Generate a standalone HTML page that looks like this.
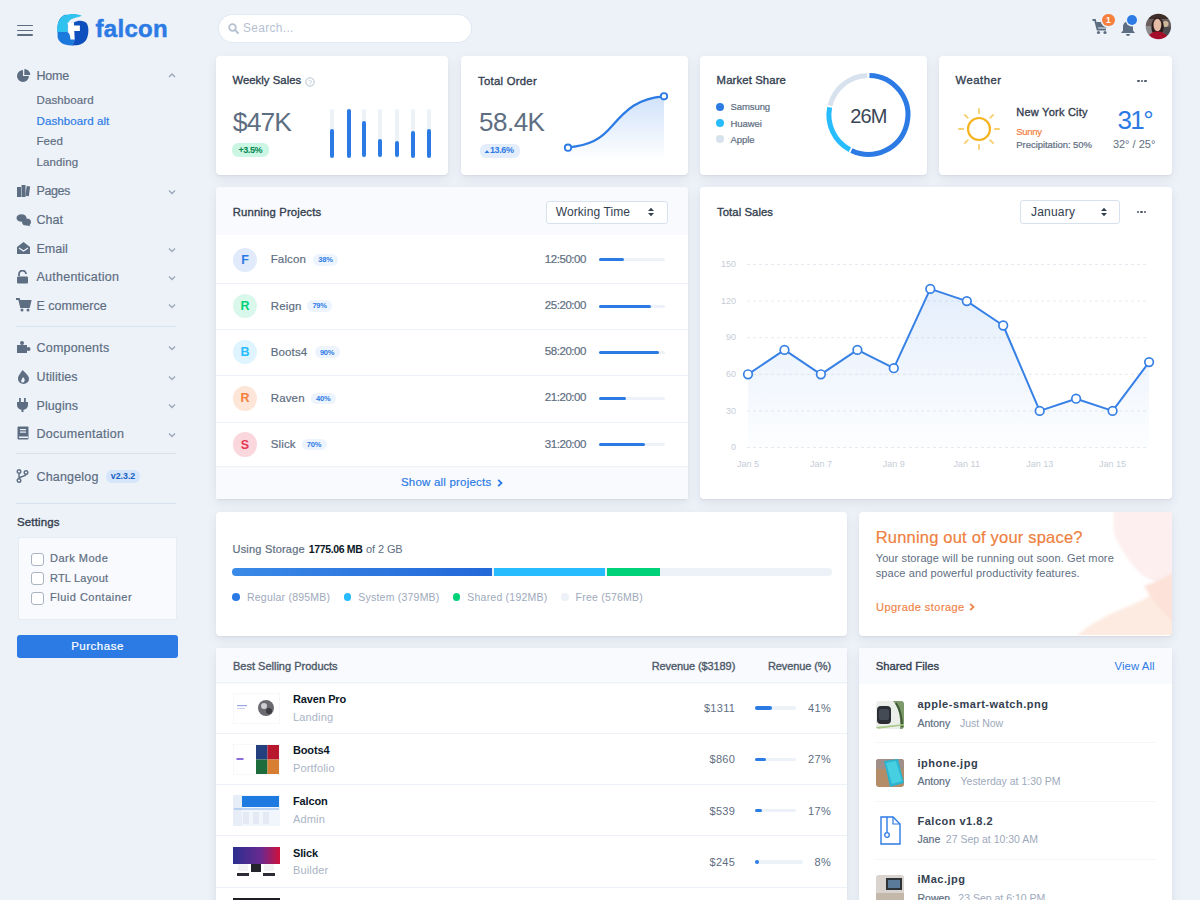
<!DOCTYPE html>
<html><head><meta charset="utf-8"><title>Falcon Dashboard</title>
<style>
html,body{margin:0;padding:0;}
body{width:1200px;height:900px;overflow:hidden;position:relative;background:#edf2f9;font-family:"Liberation Sans", sans-serif;-webkit-font-smoothing:antialiased;}
.t{position:absolute;line-height:1;white-space:nowrap;}
.b{position:absolute;}
.card{position:absolute;background:#fff;border-radius:4px;box-shadow:0 1px 2px 0 rgba(0,0,0,.06),0 4px 11px 0 rgba(65,69,88,.09);overflow:hidden;}
</style></head><body>
<div class="b" style="left:17px;top:24.5px;width:16px;height:1.6px;background:#5e6e82;border-radius:1px;"></div>
<div class="b" style="left:17px;top:29.5px;width:16px;height:1.6px;background:#5e6e82;border-radius:1px;"></div>
<div class="b" style="left:17px;top:34px;width:16px;height:1.6px;background:#5e6e82;border-radius:1px;"></div>
<svg class="b" style="left:52px;top:10px" width="40" height="40" viewBox="0 0 40 40"><path d="M5.5 20 C5 12 8 6 14 4.5 L17 11 C15.5 13.5 15.5 17 15.5 22 L22.4 29.5 C22.4 31.5 21.5 33.5 19.5 35.4 C12 35.5 6.5 32.5 5.6 27Z" fill="#1b78dc"/>
<path d="M5.2 22 C5 14 7 8 12 5.5 C17 3.5 25 3.3 29.8 5.8 C25 7.8 19.5 8 16.8 11.5 C15.5 13.5 15.5 17 15.5 22Z" fill="#30c2ee"/>
<path d="M21.7 12.8 C26 10 32 10.2 34.8 13.5 C37.3 17.5 36.8 26 33.8 30.5 C30.5 34.8 25 35.6 19.5 35.4 C21.5 33.5 22.4 31.5 22.4 29.5Z" fill="#0d4fbd"/>
<path d="M15.4 12.5 L22 13 L22.5 29.6 L18.6 29.6Z" fill="#fff"/>
<path d="M21.6 15.6 L27.9 15.6 L27.9 21.1 L22.1 21.1Z" fill="#fff"/></svg>
<div class="t" style="left:95.5px;top:16.7px;font-size:24px;color:#2c7be5;font-weight:700;letter-spacing:0.3px;-webkit-text-stroke:0.5px #2c7be5;">falcon</div>
<div class="t" style="left:36.5px;top:70.1px;font-size:12.5px;color:#5e6e82;letter-spacing:-0.2px;-webkit-text-stroke:0.2px #5e6e82;">Home</div>
<svg class="b" style="left:168px;top:71.8px" width="8" height="6" viewBox="0 0 8 6"><path d="M1 5 L4 2 L7 5" fill="none" stroke="#9aa6b8" stroke-width="1.3"/></svg>
<div class="t" style="left:36.5px;top:185.3px;font-size:12.5px;color:#5e6e82;letter-spacing:-0.4px;-webkit-text-stroke:0.2px #5e6e82;">Pages</div>
<svg class="b" style="left:168px;top:189.0px" width="8" height="6" viewBox="0 0 8 6"><path d="M1 1.5 L4 4.5 L7 1.5" fill="none" stroke="#9aa6b8" stroke-width="1.3"/></svg>
<div class="t" style="left:36.5px;top:214.0px;font-size:12.5px;color:#5e6e82;-webkit-text-stroke:0.2px #5e6e82;">Chat</div>
<div class="t" style="left:36.5px;top:242.8px;font-size:12.5px;color:#5e6e82;-webkit-text-stroke:0.2px #5e6e82;">Email</div>
<svg class="b" style="left:168px;top:246.5px" width="8" height="6" viewBox="0 0 8 6"><path d="M1 1.5 L4 4.5 L7 1.5" fill="none" stroke="#9aa6b8" stroke-width="1.3"/></svg>
<div class="t" style="left:36.5px;top:271.1px;font-size:12.5px;color:#5e6e82;letter-spacing:0.25px;-webkit-text-stroke:0.2px #5e6e82;">Authentication</div>
<svg class="b" style="left:168px;top:274.8px" width="8" height="6" viewBox="0 0 8 6"><path d="M1 1.5 L4 4.5 L7 1.5" fill="none" stroke="#9aa6b8" stroke-width="1.3"/></svg>
<div class="t" style="left:36.5px;top:299.5px;font-size:12.5px;color:#5e6e82;-webkit-text-stroke:0.2px #5e6e82;">E commerce</div>
<svg class="b" style="left:168px;top:303.2px" width="8" height="6" viewBox="0 0 8 6"><path d="M1 1.5 L4 4.5 L7 1.5" fill="none" stroke="#9aa6b8" stroke-width="1.3"/></svg>
<div class="t" style="left:36.5px;top:341.6px;font-size:12.5px;color:#5e6e82;letter-spacing:0.2px;-webkit-text-stroke:0.2px #5e6e82;">Components</div>
<svg class="b" style="left:168px;top:345.3px" width="8" height="6" viewBox="0 0 8 6"><path d="M1 1.5 L4 4.5 L7 1.5" fill="none" stroke="#9aa6b8" stroke-width="1.3"/></svg>
<div class="t" style="left:36.5px;top:371.1px;font-size:12.5px;color:#5e6e82;letter-spacing:0.1px;-webkit-text-stroke:0.2px #5e6e82;">Utilities</div>
<svg class="b" style="left:168px;top:374.8px" width="8" height="6" viewBox="0 0 8 6"><path d="M1 1.5 L4 4.5 L7 1.5" fill="none" stroke="#9aa6b8" stroke-width="1.3"/></svg>
<div class="t" style="left:36.5px;top:399.5px;font-size:12.5px;color:#5e6e82;letter-spacing:0.1px;-webkit-text-stroke:0.2px #5e6e82;">Plugins</div>
<svg class="b" style="left:168px;top:403.2px" width="8" height="6" viewBox="0 0 8 6"><path d="M1 1.5 L4 4.5 L7 1.5" fill="none" stroke="#9aa6b8" stroke-width="1.3"/></svg>
<div class="t" style="left:36.5px;top:427.8px;font-size:12.5px;color:#5e6e82;letter-spacing:0.28px;-webkit-text-stroke:0.2px #5e6e82;">Documentation</div>
<svg class="b" style="left:168px;top:431.5px" width="8" height="6" viewBox="0 0 8 6"><path d="M1 1.5 L4 4.5 L7 1.5" fill="none" stroke="#9aa6b8" stroke-width="1.3"/></svg>
<div class="t" style="left:36.5px;top:471.3px;font-size:12.5px;color:#5e6e82;letter-spacing:0.18px;-webkit-text-stroke:0.2px #5e6e82;">Changelog</div>
<div class="t" style="left:36.5px;top:94.5px;font-size:11.5px;color:#5e6e82;letter-spacing:0.1px;-webkit-text-stroke:0.2px #5e6e82;">Dashboard</div>
<div class="t" style="left:36.5px;top:115.6px;font-size:11.5px;color:#2c7be5;letter-spacing:0.1px;-webkit-text-stroke:0.2px #2c7be5;">Dashboard alt</div>
<div class="t" style="left:36.5px;top:135.9px;font-size:11.5px;color:#5e6e82;letter-spacing:0.1px;-webkit-text-stroke:0.2px #5e6e82;">Feed</div>
<div class="t" style="left:36.5px;top:156.8px;font-size:11.5px;color:#5e6e82;letter-spacing:0.1px;-webkit-text-stroke:0.2px #5e6e82;">Landing</div>
<svg class="b" style="left:16px;top:68.5px" width="16" height="14" viewBox="0 0 16 14"><path d="M7 1 A6 6 0 1 0 13 7 L7 7Z" fill="#5e6e82"/><path d="M8.3 0 A6 6 0 0 1 14.3 6 L8.3 6Z" fill="#5e6e82"/></svg>
<svg class="b" style="left:16px;top:183.8px" width="16" height="14" viewBox="0 0 16 14"><rect x="1" y="3" width="4" height="10" fill="#5e6e82"/><rect x="5.5" y="1" width="4" height="12" fill="#5e6e82"/><rect x="10" y="2" width="3.5" height="10" fill="#5e6e82" transform="rotate(8 11 7)"/></svg>
<svg class="b" style="left:16px;top:212.5px" width="16" height="14" viewBox="0 0 16 14"><ellipse cx="5.5" cy="5" rx="5" ry="3.8" fill="#5e6e82"/><ellipse cx="10.5" cy="9" rx="4.5" ry="3.5" fill="#5e6e82"/><path d="M12 11 L15 13.5 L10 12Z" fill="#5e6e82"/></svg>
<svg class="b" style="left:16px;top:241.3px" width="16" height="14" viewBox="0 0 16 14"><path d="M1 6 L7.5 1 L14 6 L14 13 L1 13Z" fill="#5e6e82"/><path d="M3 7 L7.5 10 L12 7" fill="none" stroke="#edf2f9" stroke-width="1.2"/></svg>
<svg class="b" style="left:16px;top:269.6px" width="16" height="14" viewBox="0 0 16 14"><path d="M3 6 L3 4 A3.5 3.5 0 0 1 10 4" fill="none" stroke="#5e6e82" stroke-width="1.8"/><rect x="1" y="6.5" width="11" height="7" rx="1" fill="#5e6e82"/></svg>
<svg class="b" style="left:16px;top:298px" width="16" height="14" viewBox="0 0 16 14"><path d="M0 1 L3 1 L5 9 L13 9 L14.5 3 L4 3" fill="none" stroke="#5e6e82" stroke-width="1.8"/><rect x="4" y="4" width="10" height="4" fill="#5e6e82"/><circle cx="6" cy="12" r="1.5" fill="#5e6e82"/><circle cx="12" cy="12" r="1.5" fill="#5e6e82"/></svg>
<svg class="b" style="left:16px;top:340.3px" width="16" height="14" viewBox="0 0 16 14"><rect x="1" y="5" width="10" height="8" fill="#5e6e82"/><circle cx="6" cy="3" r="2" fill="#5e6e82"/><circle cx="12.5" cy="9" r="2" fill="#5e6e82"/></svg>
<svg class="b" style="left:16px;top:369.6px" width="16" height="14" viewBox="0 0 16 14"><path d="M6.5 0 C9 3 13 5 13 9 A5.5 5 0 0 1 2 9 C2 5 5 3 6.5 0Z" fill="#5e6e82"/><path d="M7 7 C8.5 8.5 9.5 10 8 12 A2 2 0 0 1 5 11Z" fill="#edf2f9"/></svg>
<svg class="b" style="left:16px;top:398px" width="16" height="14" viewBox="0 0 16 14"><rect x="3" y="0" width="1.8" height="4" fill="#5e6e82"/><rect x="8" y="0" width="1.8" height="4" fill="#5e6e82"/><path d="M1 4 L12 4 L12 7 A5.5 5 0 0 1 1 7Z" fill="#5e6e82"/><rect x="5.5" y="10" width="2" height="4" fill="#5e6e82"/></svg>
<svg class="b" style="left:16px;top:426.3px" width="16" height="14" viewBox="0 0 16 14"><rect x="1.5" y="0.5" width="11" height="13" rx="1" fill="#5e6e82"/><rect x="4" y="3" width="6" height="1.2" fill="#edf2f9"/><rect x="4" y="5.5" width="6" height="1.2" fill="#edf2f9"/><rect x="3" y="10.5" width="9" height="1.5" fill="#edf2f9"/></svg>
<svg class="b" style="left:16px;top:469px" width="16" height="14" viewBox="0 0 16 14"><circle cx="3" cy="2.5" r="1.8" fill="none" stroke="#5e6e82" stroke-width="1.4"/><circle cx="3" cy="11.5" r="1.8" fill="none" stroke="#5e6e82" stroke-width="1.4"/><circle cx="10" cy="3.5" r="1.8" fill="none" stroke="#5e6e82" stroke-width="1.4"/><path d="M3 4.3 L3 9.7 M10 5.3 C10 8 3 7 3 9.7" fill="none" stroke="#5e6e82" stroke-width="1.4"/></svg>
<div class="b" style="left:16px;top:326px;width:160px;height:1px;background:#d8e2ef;"></div>
<div class="b" style="left:16px;top:453px;width:160px;height:1px;background:#d8e2ef;"></div>
<div class="b" style="left:16px;top:503px;width:160px;height:1px;background:#d8e2ef;"></div>
<div class="b" style="left:106px;top:470px;width:34px;height:12.5px;background:#d5e5fa;border-radius:6px;"></div>
<div class="t" style="left:-27.0px;width:300px;text-align:center;top:472.2px;font-size:8.8px;color:#1862c6;font-weight:700;">v2.3.2</div>
<div class="t" style="left:17.0px;top:517.3px;font-size:11.5px;color:#344050;letter-spacing:0.14px;-webkit-text-stroke:0.35px #344050;">Settings</div>
<div class="b" style="left:18px;top:537px;width:159px;height:83px;background:#f9fafd;border:1px solid #e6ecf4;box-sizing:border-box;border-radius:2px;"></div>
<div class="b" style="left:30.5px;top:552.5px;width:13px;height:13px;background:#fff;border:1px solid #a9b3c2;border-radius:3px;box-sizing:border-box;"></div>
<div class="t" style="left:50.0px;top:553.2px;font-size:11px;color:#5e6e82;letter-spacing:0.5px;-webkit-text-stroke:0.2px #5e6e82;">Dark Mode</div>
<div class="b" style="left:30.5px;top:572px;width:13px;height:13px;background:#fff;border:1px solid #a9b3c2;border-radius:3px;box-sizing:border-box;"></div>
<div class="t" style="left:50.0px;top:572.7px;font-size:11px;color:#5e6e82;letter-spacing:0.2px;-webkit-text-stroke:0.2px #5e6e82;">RTL Layout</div>
<div class="b" style="left:30.5px;top:591.5px;width:13px;height:13px;background:#fff;border:1px solid #a9b3c2;border-radius:3px;box-sizing:border-box;"></div>
<div class="t" style="left:50.0px;top:592.2px;font-size:11px;color:#5e6e82;letter-spacing:0.5px;-webkit-text-stroke:0.2px #5e6e82;">Fluid Container</div>
<div class="b" style="left:17px;top:634.5px;width:161px;height:23.5px;background:#2c7be5;border-radius:3px;"></div>
<div class="t" style="left:-52.5px;width:300px;text-align:center;top:640.8px;font-size:11.5px;color:#fff;letter-spacing:0.5px;-webkit-text-stroke:0.2px #fff;">Purchase</div>
<div class="b" style="left:218.5px;top:14.5px;width:252.5px;height:27.5px;background:#fff;border-radius:14px;box-shadow:0 0 0 1px #e3e9f2;"></div>
<svg class="b" style="left:228px;top:23px" width="11" height="11" viewBox="0 0 11 11"><circle cx="4.5" cy="4.5" r="3.3" fill="none" stroke="#b6c1d2" stroke-width="1.8"/><path d="M7 7 L10 10" stroke="#b6c1d2" stroke-width="2" stroke-linecap="round"/></svg>
<div class="t" style="left:243.0px;top:22.3px;font-size:12px;color:#b6c1d2;letter-spacing:0.3px;">Search...</div>
<svg class="b" style="left:1092px;top:18px" width="18" height="17" viewBox="0 0 18 17"><path d="M0.5 2 L3 2 L5.5 11.5 L14 11.5" fill="none" stroke="#5e6e82" stroke-width="1.8"/><path d="M4 4 L16 4 L14.5 9.5 L5.5 9.5Z" fill="#5e6e82"/><circle cx="6.5" cy="14.5" r="1.6" fill="#5e6e82"/><circle cx="13" cy="14.5" r="1.6" fill="#5e6e82"/></svg>
<div class="b" style="left:1102px;top:13.5px;width:12.5px;height:12.5px;background:#f5803e;border-radius:50%;box-shadow:0 0 0 1.5px #edf2f9;"></div>
<div class="t" style="left:958.3px;width:300px;text-align:center;top:16.1px;font-size:8.5px;color:#fff;font-weight:700;">1</div>
<svg class="b" style="left:1120px;top:20px" width="16" height="16" viewBox="0 0 16 16"><path d="M8 1.5 C4.5 1.5 3 4 3 7 L3 10.5 L1 13 L15 13 L13 10.5 L13 7 C13 4 11.5 1.5 8 1.5Z" fill="#5e6e82"/><path d="M6 14 A2 2 0 0 0 10 14Z" fill="#5e6e82"/></svg>
<div class="b" style="left:1126.5px;top:15px;width:10px;height:10px;background:#2c7be5;border-radius:50%;box-shadow:0 0 0 1.5px #edf2f9;"></div>
<svg class="b" style="left:1145px;top:12.5px" width="27" height="27" viewBox="0 0 27 27"><defs><clipPath id="av"><circle cx="13.4" cy="13.5" r="12.7"/></clipPath><filter id="avb"><feGaussianBlur stdDeviation="0.6"/></filter></defs>
<g clip-path="url(#av)"><g filter="url(#avb)"><rect width="27" height="27" fill="#6a5f5b"/><rect x="0" y="0" width="27" height="6" fill="#3d2d2a"/>
<rect x="0" y="13" width="8" height="10" fill="#8d8c8e"/><ellipse cx="20.5" cy="11" rx="3" ry="3" fill="#cdb89c"/><rect x="19" y="14" width="8" height="9" fill="#4b4c50"/>
<ellipse cx="12.6" cy="14" rx="6.3" ry="9.5" fill="#2b1f1d"/><ellipse cx="12.4" cy="12" rx="3.9" ry="6.2" fill="#e4bba6"/>
<path d="M1 27 C3 21 8 18.5 12.5 18.5 C17 18.5 22 21 25 27Z" fill="#a5112a"/></g></g></svg>
<div class="card" style="left:216px;top:56px;width:232px;height:119px;"></div>
<div class="card" style="left:461px;top:56px;width:227px;height:119px;"></div>
<div class="card" style="left:700px;top:56px;width:227px;height:119px;"></div>
<div class="card" style="left:939px;top:56px;width:233px;height:119px;"></div>
<div class="card" style="left:216px;top:187px;width:472px;height:312px;"></div>
<div class="card" style="left:700px;top:187px;width:472px;height:312px;"></div>
<div class="card" style="left:216px;top:512px;width:631px;height:124px;"></div>
<div class="card" style="left:859px;top:512px;width:313px;height:124px;"></div>
<div class="card" style="left:216px;top:648px;width:631px;height:272px;"></div>
<div class="card" style="left:859px;top:648px;width:313px;height:272px;"></div>
<div class="t" style="left:232.4px;top:75.4px;font-size:11.3px;color:#344050;letter-spacing:0.05px;-webkit-text-stroke:0.35px #344050;">Weekly Sales</div>
<svg class="b" style="left:305px;top:77px" width="10" height="10" viewBox="0 0 10 10"><circle cx="5" cy="5" r="4.2" fill="none" stroke="#b6c1d2" stroke-width="1"/><text x="5" y="7.6" font-size="6.5" text-anchor="middle" fill="#b6c1d2" font-family="Liberation Sans">?</text></svg>
<div class="t" style="left:232.8px;top:108.9px;font-size:26.5px;color:#5e6e82;letter-spacing:-0.9px;">$47K</div>
<div class="b" style="left:232px;top:143px;width:36.5px;height:14px;background:#ccf6e4;border-radius:6px;"></div>
<div class="t" style="left:100.3px;width:300px;text-align:center;top:146.0px;font-size:9px;color:#00864e;font-weight:700;letter-spacing:-0.4px;">+3.5%</div>
<div class="b" style="left:330.4px;top:109px;width:4px;height:48.5px;background:#edf2f9;border-radius:2px;"></div>
<div class="b" style="left:330.4px;top:128.5px;width:4px;height:29.0px;background:#2c7be5;border-radius:2px;"></div>
<div class="b" style="left:346.5px;top:109px;width:4px;height:48.5px;background:#edf2f9;border-radius:2px;"></div>
<div class="b" style="left:346.5px;top:109px;width:4px;height:48.5px;background:#2c7be5;border-radius:2px;"></div>
<div class="b" style="left:362.4px;top:109px;width:4px;height:48.5px;background:#edf2f9;border-radius:2px;"></div>
<div class="b" style="left:362.4px;top:121.4px;width:4px;height:36.099999999999994px;background:#2c7be5;border-radius:2px;"></div>
<div class="b" style="left:378.4px;top:109px;width:4px;height:48.5px;background:#edf2f9;border-radius:2px;"></div>
<div class="b" style="left:378.4px;top:138.8px;width:4px;height:18.69999999999999px;background:#2c7be5;border-radius:2px;"></div>
<div class="b" style="left:394.5px;top:109px;width:4px;height:48.5px;background:#edf2f9;border-radius:2px;"></div>
<div class="b" style="left:394.5px;top:140.7px;width:4px;height:16.80000000000001px;background:#2c7be5;border-radius:2px;"></div>
<div class="b" style="left:410.5px;top:109px;width:4px;height:48.5px;background:#edf2f9;border-radius:2px;"></div>
<div class="b" style="left:410.5px;top:131px;width:4px;height:26.5px;background:#2c7be5;border-radius:2px;"></div>
<div class="b" style="left:426.8px;top:109px;width:4px;height:48.5px;background:#edf2f9;border-radius:2px;"></div>
<div class="b" style="left:426.8px;top:128.5px;width:4px;height:29.0px;background:#2c7be5;border-radius:2px;"></div>
<div class="t" style="left:478.0px;top:75.7px;font-size:11.3px;color:#344050;letter-spacing:0.28px;-webkit-text-stroke:0.35px #344050;">Total Order</div>
<div class="t" style="left:479.0px;top:108.7px;font-size:26px;color:#5e6e82;letter-spacing:-0.5px;">58.4K</div>
<div class="b" style="left:479.5px;top:143.5px;width:40.5px;height:14px;background:#e3edfb;border-radius:6px;"></div>
<svg class="b" style="left:483.5px;top:148.5px" width="6" height="5" viewBox="0 0 6 5"><path d="M0.5 4 L3 1.2 L5.5 4Z" fill="#2c7be5"/></svg>
<div class="t" style="left:490.0px;top:146.2px;font-size:9px;color:#2c7be5;font-weight:700;letter-spacing:-0.4px;">13.6%</div>
<svg class="b" style="left:560px;top:88px" width="112" height="76" viewBox="0 0 112 76"><defs><linearGradient id="to" x1="0" y1="0" x2="0" y2="1"><stop offset="0" stop-color="#2c7be5" stop-opacity=".22"/><stop offset="1" stop-color="#2c7be5" stop-opacity="0"/></linearGradient></defs>
<path d="M8 59.7 C30 57 40 52 52 38 C66 22 78 10 104 8.3 L104 72 L8 72Z" fill="url(#to)"/>
<path d="M8 59.7 C30 57 40 52 52 38 C66 22 78 10 104 8.3" fill="none" stroke="#2c7be5" stroke-width="2.2"/>
<circle cx="8" cy="59.7" r="3.2" fill="#fff" stroke="#2c7be5" stroke-width="1.8"/>
<circle cx="104" cy="8.3" r="3.2" fill="#fff" stroke="#2c7be5" stroke-width="1.8"/></svg>
<div class="t" style="left:716.6px;top:75.2px;font-size:11.3px;color:#344050;letter-spacing:0.13px;-webkit-text-stroke:0.35px #344050;">Market Share</div>
<div class="b" style="left:716.4px;top:103px;width:8px;height:8px;background:#2c7be5;border-radius:50%;"></div>
<div class="t" style="left:730.6px;top:102.3px;font-size:9.5px;color:#5e6e82;letter-spacing:-0.1px;-webkit-text-stroke:0.2px #5e6e82;">Samsung</div>
<div class="b" style="left:716.4px;top:119.2px;width:8px;height:8px;background:#27bcfd;border-radius:50%;"></div>
<div class="t" style="left:730.6px;top:118.5px;font-size:9.5px;color:#5e6e82;letter-spacing:-0.1px;-webkit-text-stroke:0.2px #5e6e82;">Huawei</div>
<div class="b" style="left:716.4px;top:135.2px;width:8px;height:8px;background:#d8e2ef;border-radius:50%;"></div>
<div class="t" style="left:730.6px;top:134.5px;font-size:9.5px;color:#5e6e82;letter-spacing:-0.1px;-webkit-text-stroke:0.2px #5e6e82;">Apple</div>
<svg class="b" style="left:820px;top:66px" width="97" height="97" viewBox="0 0 97 97"><path d="M49.43 9.41 A39.5 39.5 0 1 1 31.39 84.55" fill="none" stroke="#2c7be5" stroke-width="5"/><path d="M29.86 83.78 A39.5 39.5 0 0 1 9.63 41.36" fill="none" stroke="#27bcfd" stroke-width="5"/><path d="M9.99 39.68 A39.5 39.5 0 0 1 47.37 9.41" fill="none" stroke="#d8e2ef" stroke-width="5"/></svg>
<div class="t" style="left:718.4px;width:300px;text-align:center;top:106.3px;font-size:20px;color:#3a4656;letter-spacing:-0.9px;">26M</div>
<div class="t" style="left:955.5px;top:75.1px;font-size:11.3px;color:#344050;letter-spacing:0.5px;-webkit-text-stroke:0.35px #344050;">Weather</div>
<div class="b" style="left:1137px;top:79.5px;width:2.5px;height:2.5px;background:#4d5969;border-radius:50%;"></div>
<div class="b" style="left:1140.5px;top:79.5px;width:2.5px;height:2.5px;background:#4d5969;border-radius:50%;"></div>
<div class="b" style="left:1144px;top:79.5px;width:2.5px;height:2.5px;background:#4d5969;border-radius:50%;"></div>
<svg class="b" style="left:957.2px;top:106.8px" width="44" height="44" viewBox="0 0 44 44"><circle cx="22" cy="22" r="11" fill="none" stroke="#f5b31f" stroke-width="2.2"/><line x1="22.00" y1="6.20" x2="22.00" y2="2.00" stroke="#f7cf6e" stroke-width="1.8" stroke-linecap="round"/><line x1="33.17" y1="10.83" x2="36.14" y2="7.86" stroke="#f7cf6e" stroke-width="1.8" stroke-linecap="round"/><line x1="37.80" y1="22.00" x2="42.00" y2="22.00" stroke="#f7cf6e" stroke-width="1.8" stroke-linecap="round"/><line x1="33.17" y1="33.17" x2="36.14" y2="36.14" stroke="#f7cf6e" stroke-width="1.8" stroke-linecap="round"/><line x1="22.00" y1="37.80" x2="22.00" y2="42.00" stroke="#f7cf6e" stroke-width="1.8" stroke-linecap="round"/><line x1="10.83" y1="33.17" x2="7.86" y2="36.14" stroke="#f7cf6e" stroke-width="1.8" stroke-linecap="round"/><line x1="6.20" y1="22.00" x2="2.00" y2="22.00" stroke="#f7cf6e" stroke-width="1.8" stroke-linecap="round"/><line x1="10.83" y1="10.83" x2="7.86" y2="7.86" stroke="#f7cf6e" stroke-width="1.8" stroke-linecap="round"/></svg>
<div class="t" style="left:1016.3px;top:106.9px;font-size:11px;color:#344050;letter-spacing:0.23px;-webkit-text-stroke:0.35px #344050;">New York City</div>
<div class="t" style="left:1016.3px;top:126.8px;font-size:9.5px;color:#f5803e;letter-spacing:-0.3px;-webkit-text-stroke:0.2px #f5803e;">Sunny</div>
<div class="t" style="left:1016.3px;top:139.6px;font-size:9.5px;color:#5e6e82;letter-spacing:-0.05px;-webkit-text-stroke:0.2px #5e6e82;">Precipitation: 50%</div>
<div class="t" style="left:984.8px;width:300px;text-align:center;top:106.8px;font-size:26px;color:#2c7be5;letter-spacing:-1.5px;">31°</div>
<div class="t" style="left:984.1px;width:300px;text-align:center;top:138.9px;font-size:11px;color:#5e6e82;">32° / 25°</div>
<div class="b" style="left:216px;top:187px;width:472px;height:48px;background:#f9fafd;border-radius:4px 4px 0 0;"></div>
<div class="t" style="left:232.7px;top:206.9px;font-size:11.3px;color:#344050;letter-spacing:0.16px;-webkit-text-stroke:0.35px #344050;">Running Projects</div>
<div class="b" style="left:545.5px;top:200.5px;width:122px;height:23px;background:#fff;border:1px solid #d8e2ef;border-radius:3px;box-sizing:border-box;"></div>
<div class="t" style="left:555.7px;top:206.0px;font-size:12px;color:#344050;letter-spacing:0.1px;">Working Time</div>
<svg class="b" style="left:647px;top:207px" width="8" height="10" viewBox="0 0 8 10"><path d="M1 4 L4 0.8 L7 4Z" fill="#344050"/><path d="M1 6 L4 9.2 L7 6Z" fill="#344050"/></svg>
<div class="b" style="left:232.7px;top:247.5px;width:24.6px;height:24.6px;background:#e0eafb;border-radius:50%;"></div>
<div class="t" style="left:95.0px;width:300px;text-align:center;top:253.7px;font-size:12.5px;color:#2c7be5;font-weight:700;">F</div>
<div class="t" style="left:270.7px;top:254.3px;font-size:11.5px;color:#5e6e82;letter-spacing:0.15px;-webkit-text-stroke:0.2px #5e6e82;">Falcon</div>
<div class="b" style="left:313.0px;top:254.0px;width:25px;height:11.6px;background:#edf4fd;border-radius:6px;"></div>
<div class="t" style="left:175.5px;width:300px;text-align:center;top:256.1px;font-size:7.5px;color:#2c7be5;font-weight:700;letter-spacing:-0.2px;">38%</div>
<div class="t" style="left:544.8px;top:253.8px;font-size:11.5px;color:#5e6e82;letter-spacing:-0.45px;-webkit-text-stroke:0.2px #5e6e82;">12:50:00</div>
<div class="b" style="left:599.3px;top:258.3px;width:66px;height:3px;background:#edf2f9;border-radius:2px;"></div>
<div class="b" style="left:599.3px;top:258.3px;width:25.08px;height:3px;background:#2c7be5;border-radius:2px;"></div>
<div class="b" style="left:216px;top:282.9px;width:472px;height:1px;background:#edf2f9;"></div>
<div class="b" style="left:232.7px;top:293.7px;width:24.6px;height:24.6px;background:#d9f8eb;border-radius:50%;"></div>
<div class="t" style="left:95.0px;width:300px;text-align:center;top:299.9px;font-size:12.5px;color:#00d27a;font-weight:700;">R</div>
<div class="t" style="left:270.7px;top:300.5px;font-size:11.5px;color:#5e6e82;letter-spacing:0.15px;-webkit-text-stroke:0.2px #5e6e82;">Reign</div>
<div class="b" style="left:307.09999999999997px;top:300.2px;width:25px;height:11.6px;background:#edf4fd;border-radius:6px;"></div>
<div class="t" style="left:169.6px;width:300px;text-align:center;top:302.3px;font-size:7.5px;color:#2c7be5;font-weight:700;letter-spacing:-0.2px;">79%</div>
<div class="t" style="left:544.8px;top:300.0px;font-size:11.5px;color:#5e6e82;letter-spacing:-0.45px;-webkit-text-stroke:0.2px #5e6e82;">25:20:00</div>
<div class="b" style="left:599.3px;top:304.5px;width:66px;height:3px;background:#edf2f9;border-radius:2px;"></div>
<div class="b" style="left:599.3px;top:304.5px;width:52.14px;height:3px;background:#2c7be5;border-radius:2px;"></div>
<div class="b" style="left:216px;top:329.1px;width:472px;height:1px;background:#edf2f9;"></div>
<div class="b" style="left:232.7px;top:339.90000000000003px;width:24.6px;height:24.6px;background:#dff4fe;border-radius:50%;"></div>
<div class="t" style="left:95.0px;width:300px;text-align:center;top:346.1px;font-size:12.5px;color:#27bcfd;font-weight:700;">B</div>
<div class="t" style="left:270.7px;top:346.7px;font-size:11.5px;color:#5e6e82;letter-spacing:0.15px;-webkit-text-stroke:0.2px #5e6e82;">Boots4</div>
<div class="b" style="left:314.59999999999997px;top:346.40000000000003px;width:25px;height:11.6px;background:#edf4fd;border-radius:6px;"></div>
<div class="t" style="left:177.1px;width:300px;text-align:center;top:348.5px;font-size:7.5px;color:#2c7be5;font-weight:700;letter-spacing:-0.2px;">90%</div>
<div class="t" style="left:544.8px;top:346.2px;font-size:11.5px;color:#5e6e82;letter-spacing:-0.45px;-webkit-text-stroke:0.2px #5e6e82;">58:20:00</div>
<div class="b" style="left:599.3px;top:350.70000000000005px;width:66px;height:3px;background:#edf2f9;border-radius:2px;"></div>
<div class="b" style="left:599.3px;top:350.70000000000005px;width:59.4px;height:3px;background:#2c7be5;border-radius:2px;"></div>
<div class="b" style="left:216px;top:375.3px;width:472px;height:1px;background:#edf2f9;"></div>
<div class="b" style="left:232.7px;top:386.1px;width:24.6px;height:24.6px;background:#fde6d8;border-radius:50%;"></div>
<div class="t" style="left:95.0px;width:300px;text-align:center;top:392.3px;font-size:12.5px;color:#f5803e;font-weight:700;">R</div>
<div class="t" style="left:270.7px;top:392.9px;font-size:11.5px;color:#5e6e82;letter-spacing:0.15px;-webkit-text-stroke:0.2px #5e6e82;">Raven</div>
<div class="b" style="left:310.8px;top:392.6px;width:25px;height:11.6px;background:#edf4fd;border-radius:6px;"></div>
<div class="t" style="left:173.3px;width:300px;text-align:center;top:394.7px;font-size:7.5px;color:#2c7be5;font-weight:700;letter-spacing:-0.2px;">40%</div>
<div class="t" style="left:544.8px;top:392.4px;font-size:11.5px;color:#5e6e82;letter-spacing:-0.45px;-webkit-text-stroke:0.2px #5e6e82;">21:20:00</div>
<div class="b" style="left:599.3px;top:396.90000000000003px;width:66px;height:3px;background:#edf2f9;border-radius:2px;"></div>
<div class="b" style="left:599.3px;top:396.90000000000003px;width:26.4px;height:3px;background:#2c7be5;border-radius:2px;"></div>
<div class="b" style="left:216px;top:421.5px;width:472px;height:1px;background:#edf2f9;"></div>
<div class="b" style="left:232.7px;top:432.3px;width:24.6px;height:24.6px;background:#fad7dd;border-radius:50%;"></div>
<div class="t" style="left:95.0px;width:300px;text-align:center;top:438.5px;font-size:12.5px;color:#e63757;font-weight:700;">S</div>
<div class="t" style="left:270.7px;top:439.1px;font-size:11.5px;color:#5e6e82;letter-spacing:0.15px;-webkit-text-stroke:0.2px #5e6e82;">Slick</div>
<div class="b" style="left:301.5px;top:438.8px;width:25px;height:11.6px;background:#edf4fd;border-radius:6px;"></div>
<div class="t" style="left:164.0px;width:300px;text-align:center;top:440.9px;font-size:7.5px;color:#2c7be5;font-weight:700;letter-spacing:-0.2px;">70%</div>
<div class="t" style="left:544.8px;top:438.6px;font-size:11.5px;color:#5e6e82;letter-spacing:-0.45px;-webkit-text-stroke:0.2px #5e6e82;">31:20:00</div>
<div class="b" style="left:599.3px;top:443.1px;width:66px;height:3px;background:#edf2f9;border-radius:2px;"></div>
<div class="b" style="left:599.3px;top:443.1px;width:46.2px;height:3px;background:#2c7be5;border-radius:2px;"></div>
<div class="b" style="left:216px;top:467px;width:472px;height:32px;background:#f9fafd;"></div>
<div class="b" style="left:216px;top:466px;width:472px;height:1px;background:#edf2f9;"></div>
<div class="t" style="left:401.0px;top:477.3px;font-size:11.5px;color:#2c7be5;letter-spacing:0.2px;-webkit-text-stroke:0.2px #2c7be5;">Show all projects</div>
<svg class="b" style="left:497px;top:479px" width="6" height="8" viewBox="0 0 6 8"><path d="M1.2 0.8 L4.5 4 L1.2 7.2" fill="none" stroke="#2c7be5" stroke-width="1.8"/></svg>
<div class="t" style="left:717.0px;top:206.6px;font-size:11.3px;color:#344050;letter-spacing:0.07px;-webkit-text-stroke:0.35px #344050;">Total Sales</div>
<div class="b" style="left:1020.4px;top:200.4px;width:99.3px;height:23.3px;background:#fff;border:1px solid #d8e2ef;border-radius:3px;box-sizing:border-box;"></div>
<div class="t" style="left:1031.0px;top:206.3px;font-size:12px;color:#344050;letter-spacing:0.2px;">January</div>
<svg class="b" style="left:1099.5px;top:207px" width="8" height="10" viewBox="0 0 8 10"><path d="M1 4 L4 0.8 L7 4Z" fill="#344050"/><path d="M1 6 L4 9.2 L7 6Z" fill="#344050"/></svg>
<div class="b" style="left:1136.5px;top:210.7px;width:2.5px;height:2.5px;background:#4d5969;border-radius:50%;"></div>
<div class="b" style="left:1140.0px;top:210.7px;width:2.5px;height:2.5px;background:#4d5969;border-radius:50%;"></div>
<div class="b" style="left:1143.5px;top:210.7px;width:2.5px;height:2.5px;background:#4d5969;border-radius:50%;"></div>
<svg class="b" style="left:0;top:0" width="1200" height="900" viewBox="0 0 1200 900">
<defs><linearGradient id="ts" x1="0" y1="0" x2="0" y2="1"><stop offset="0" stop-color="#2c7be5" stop-opacity=".13"/><stop offset="1" stop-color="#2c7be5" stop-opacity=".01"/></linearGradient></defs>
<line x1="747" y1="447.5" x2="1148" y2="447.5" stroke="#e6ebf2" stroke-width="1" stroke-dasharray="3 3"/><line x1="747" y1="410.9" x2="1148" y2="410.9" stroke="#e6ebf2" stroke-width="1" stroke-dasharray="3 3"/><line x1="747" y1="374.3" x2="1148" y2="374.3" stroke="#e6ebf2" stroke-width="1" stroke-dasharray="3 3"/><line x1="747" y1="337.7" x2="1148" y2="337.7" stroke="#e6ebf2" stroke-width="1" stroke-dasharray="3 3"/><line x1="747" y1="301.1" x2="1148" y2="301.1" stroke="#e6ebf2" stroke-width="1" stroke-dasharray="3 3"/><line x1="747" y1="264.5" x2="1148" y2="264.5" stroke="#e6ebf2" stroke-width="1" stroke-dasharray="3 3"/>
<polygon points="748.0,447.5 748.0,374.3 784.5,349.9 820.9,374.3 857.4,349.9 893.8,368.2 930.3,288.9 966.8,301.1 1003.2,325.5 1039.7,410.9 1076.1,398.7 1112.6,410.9 1149.1,362.1 1149.1,447.5" fill="url(#ts)"/>
<polyline points="748.0,374.3 784.5,349.9 820.9,374.3 857.4,349.9 893.8,368.2 930.3,288.9 966.8,301.1 1003.2,325.5 1039.7,410.9 1076.1,398.7 1112.6,410.9 1149.1,362.1" fill="none" stroke="#3781e6" stroke-width="2" stroke-linejoin="round"/>
<circle cx="748.0" cy="374.3" r="4.3" fill="#fff" stroke="#3781e6" stroke-width="1.7"/><circle cx="784.5" cy="349.9" r="4.3" fill="#fff" stroke="#3781e6" stroke-width="1.7"/><circle cx="820.9" cy="374.3" r="4.3" fill="#fff" stroke="#3781e6" stroke-width="1.7"/><circle cx="857.4" cy="349.9" r="4.3" fill="#fff" stroke="#3781e6" stroke-width="1.7"/><circle cx="893.8" cy="368.2" r="4.3" fill="#fff" stroke="#3781e6" stroke-width="1.7"/><circle cx="930.3" cy="288.9" r="4.3" fill="#fff" stroke="#3781e6" stroke-width="1.7"/><circle cx="966.8" cy="301.1" r="4.3" fill="#fff" stroke="#3781e6" stroke-width="1.7"/><circle cx="1003.2" cy="325.5" r="4.3" fill="#fff" stroke="#3781e6" stroke-width="1.7"/><circle cx="1039.7" cy="410.9" r="4.3" fill="#fff" stroke="#3781e6" stroke-width="1.7"/><circle cx="1076.1" cy="398.7" r="4.3" fill="#fff" stroke="#3781e6" stroke-width="1.7"/><circle cx="1112.6" cy="410.9" r="4.3" fill="#fff" stroke="#3781e6" stroke-width="1.7"/><circle cx="1149.1" cy="362.1" r="4.3" fill="#fff" stroke="#3781e6" stroke-width="1.7"/>
</svg>
<div class="t" style="right:464.0px;top:443.1px;font-size:9px;color:#c6cdd7;">0</div>
<div class="t" style="right:464.0px;top:406.5px;font-size:9px;color:#c6cdd7;">30</div>
<div class="t" style="right:464.0px;top:369.9px;font-size:9px;color:#c6cdd7;">60</div>
<div class="t" style="right:464.0px;top:333.3px;font-size:9px;color:#c6cdd7;">90</div>
<div class="t" style="right:464.0px;top:296.7px;font-size:9px;color:#c6cdd7;">120</div>
<div class="t" style="right:464.0px;top:260.1px;font-size:9px;color:#c6cdd7;">150</div>
<div class="t" style="left:598.0px;width:300px;text-align:center;top:459.6px;font-size:9px;color:#c6cdd7;">Jan 5</div>
<div class="t" style="left:670.9px;width:300px;text-align:center;top:459.6px;font-size:9px;color:#c6cdd7;">Jan 7</div>
<div class="t" style="left:743.8px;width:300px;text-align:center;top:459.6px;font-size:9px;color:#c6cdd7;">Jan 9</div>
<div class="t" style="left:816.8px;width:300px;text-align:center;top:459.6px;font-size:9px;color:#c6cdd7;">Jan 11</div>
<div class="t" style="left:889.7px;width:300px;text-align:center;top:459.6px;font-size:9px;color:#c6cdd7;">Jan 13</div>
<div class="t" style="left:962.6px;width:300px;text-align:center;top:459.6px;font-size:9px;color:#c6cdd7;">Jan 15</div>
<div class="t" style="left:232.5px;top:543.7px;font-size:11px;color:#5e6e82;letter-spacing:0.2px;-webkit-text-stroke:0.2px #5e6e82;">Using Storage </div>
<div class="t" style="left:308.7px;top:544.1px;font-size:10.5px;color:#0b1727;font-weight:700;letter-spacing:-0.35px;">1775.06 MB</div>
<div class="t" style="left:366.0px;top:543.7px;font-size:11px;color:#5e6e82;letter-spacing:-0.1px;">of 2 GB</div>
<div class="b" style="left:231.7px;top:568px;width:600.3px;height:8px;background:#edf2f9;border-radius:4px;"></div>
<div class="b" style="left:231.7px;top:568px;width:260.8px;height:8px;background:linear-gradient(90deg,#3a8ae8,#2368d8);border-radius:4px 0 0 4px;"></div>
<div class="b" style="left:494px;top:568px;width:110.5px;height:8px;background:#27bcfd;"></div>
<div class="b" style="left:606.5px;top:568px;width:53.7px;height:8px;background:#00d27a;"></div>
<div class="b" style="left:232.39999999999998px;top:593.2px;width:7.6px;height:7.6px;background:#2c7be5;border-radius:50%;"></div>
<div class="t" style="left:247.0px;top:591.8px;font-size:10.5px;color:#9da9bb;letter-spacing:0.22px;">Regular (895MB)</div>
<div class="b" style="left:343.7px;top:593.2px;width:7.6px;height:7.6px;background:#27bcfd;border-radius:50%;"></div>
<div class="t" style="left:358.3px;top:591.8px;font-size:10.5px;color:#9da9bb;letter-spacing:0.22px;">System (379MB)</div>
<div class="b" style="left:452.7px;top:593.2px;width:7.6px;height:7.6px;background:#00d27a;border-radius:50%;"></div>
<div class="t" style="left:467.3px;top:591.8px;font-size:10.5px;color:#9da9bb;letter-spacing:0.22px;">Shared (192MB)</div>
<div class="b" style="left:561.0px;top:593.2px;width:7.6px;height:7.6px;background:#edf2f9;border-radius:50%;"></div>
<div class="t" style="left:575.6px;top:591.8px;font-size:10.5px;color:#9da9bb;letter-spacing:0.22px;">Free (576MB)</div>
<svg class="b" style="left:859px;top:512px" width="313" height="123" viewBox="0 0 313 123"><defs><filter id="rb" x="-20%" y="-20%" width="140%" height="140%"><feGaussianBlur stdDeviation="1.6"/></filter></defs><g filter="url(#rb)">
<path d="M255 -5 L320 -5 L320 72 C300 72 290 68 282 62 C272 52 262 38 256 24 C254 15 255 5 255 -5Z" fill="#fdeeef"/>
<path d="M212 130 C230 110 255 100 275 92 C290 86 303 76 320 56 L320 130Z" fill="#fdebe1"/>
<path d="M285 74 C295 71 305 66 320 58 L320 112 C305 105 295 90 285 74Z" fill="#fce2d8"/></g></svg>
<div class="t" style="left:875.7px;top:529.3px;font-size:16.5px;color:#ee7f3f;letter-spacing:0.2px;-webkit-text-stroke:0.2px #ee7f3f;">Running out of your space?</div>
<div class="t" style="left:875.7px;top:553.2px;font-size:11px;color:#5e6e82;letter-spacing:0.12px;">Your storage will be running out soon. Get more</div>
<div class="t" style="left:875.7px;top:568.4px;font-size:11px;color:#5e6e82;letter-spacing:0.1px;">space and powerful productivity features.</div>
<div class="t" style="left:876.0px;top:601.5px;font-size:11px;color:#f0844a;letter-spacing:0.45px;-webkit-text-stroke:0.2px #f0844a;">Upgrade storage</div>
<svg class="b" style="left:968.5px;top:602.5px" width="6" height="8" viewBox="0 0 6 8"><path d="M1.2 0.8 L4.5 4 L1.2 7.2" fill="none" stroke="#f0844a" stroke-width="1.8"/></svg>
<div class="b" style="left:216px;top:648px;width:631px;height:36.4px;background:#f9fafd;"></div>
<div class="t" style="left:233.0px;top:661.1px;font-size:11px;color:#4d5969;-webkit-text-stroke:0.35px #4d5969;">Best Selling Products</div>
<div class="t" style="right:464.8px;top:661.1px;font-size:11px;color:#4d5969;letter-spacing:-0.1px;-webkit-text-stroke:0.35px #4d5969;">Revenue ($3189)</div>
<div class="t" style="right:369.0px;top:661.1px;font-size:11px;color:#4d5969;letter-spacing:-0.1px;-webkit-text-stroke:0.35px #4d5969;">Revenue (%)</div>
<div class="b" style="left:216px;top:681.7px;width:631px;height:1px;background:#edf2f9;"></div>
<div class="t" style="left:293.0px;top:694.0px;font-size:11px;color:#0b1727;font-weight:700;letter-spacing:-0.15px;">Raven Pro</div>
<div class="t" style="left:293.0px;top:711.5px;font-size:11px;color:#a9b4c4;letter-spacing:0.15px;">Landing</div>
<div class="t" style="right:464.8px;top:703.1px;font-size:11px;color:#5e6e82;letter-spacing:0.3px;">$1311</div>
<div class="t" style="right:369.0px;top:703.1px;font-size:11px;color:#5e6e82;letter-spacing:0.3px;">41%</div>
<div class="b" style="left:754.8px;top:706.4px;width:41.2px;height:3.6px;background:#edf2f9;border-radius:2px;"></div>
<div class="b" style="left:754.8px;top:706.4px;width:16.892px;height:3.6px;background:#2c7be5;border-radius:2px;"></div>
<div class="b" style="left:216px;top:732.9000000000001px;width:631px;height:1px;background:#edf2f9;"></div>
<div class="t" style="left:293.0px;top:745.2px;font-size:11px;color:#0b1727;font-weight:700;letter-spacing:-0.15px;">Boots4</div>
<div class="t" style="left:293.0px;top:762.7px;font-size:11px;color:#a9b4c4;letter-spacing:0.15px;">Portfolio</div>
<div class="t" style="right:464.8px;top:754.3px;font-size:11px;color:#5e6e82;letter-spacing:0.3px;">$860</div>
<div class="t" style="right:369.0px;top:754.3px;font-size:11px;color:#5e6e82;letter-spacing:0.3px;">27%</div>
<div class="b" style="left:754.8px;top:757.6px;width:41.2px;height:3.6px;background:#edf2f9;border-radius:2px;"></div>
<div class="b" style="left:754.8px;top:757.6px;width:11.124px;height:3.6px;background:#2c7be5;border-radius:2px;"></div>
<div class="b" style="left:216px;top:784.1px;width:631px;height:1px;background:#edf2f9;"></div>
<div class="t" style="left:293.0px;top:796.4px;font-size:11px;color:#0b1727;font-weight:700;letter-spacing:-0.15px;">Falcon</div>
<div class="t" style="left:293.0px;top:813.9px;font-size:11px;color:#a9b4c4;letter-spacing:0.15px;">Admin</div>
<div class="t" style="right:464.8px;top:805.5px;font-size:11px;color:#5e6e82;letter-spacing:0.3px;">$539</div>
<div class="t" style="right:369.0px;top:805.5px;font-size:11px;color:#5e6e82;letter-spacing:0.3px;">17%</div>
<div class="b" style="left:754.8px;top:808.8px;width:41.2px;height:3.6px;background:#edf2f9;border-radius:2px;"></div>
<div class="b" style="left:754.8px;top:808.8px;width:7.004000000000001px;height:3.6px;background:#2c7be5;border-radius:2px;"></div>
<div class="b" style="left:216px;top:835.3000000000001px;width:631px;height:1px;background:#edf2f9;"></div>
<div class="t" style="left:293.0px;top:847.6px;font-size:11px;color:#0b1727;font-weight:700;letter-spacing:-0.15px;">Slick</div>
<div class="t" style="left:293.0px;top:865.1px;font-size:11px;color:#a9b4c4;letter-spacing:0.15px;">Builder</div>
<div class="t" style="right:464.8px;top:856.7px;font-size:11px;color:#5e6e82;letter-spacing:0.3px;">$245</div>
<div class="t" style="right:369.0px;top:856.7px;font-size:11px;color:#5e6e82;letter-spacing:0.3px;">8%</div>
<div class="b" style="left:754.8px;top:860.0px;width:48.2px;height:3.6px;background:#edf2f9;border-radius:2px;"></div>
<div class="b" style="left:754.8px;top:860.0px;width:3.8560000000000003px;height:3.6px;background:#2c7be5;border-radius:2px;"></div>
<div class="b" style="left:216px;top:886.5px;width:631px;height:1px;background:#edf2f9;"></div>
<div class="t" style="left:293.0px;top:898.8px;font-size:11px;color:#0b1727;font-weight:700;letter-spacing:-0.15px;">Falcon</div>
<div class="t" style="left:293.0px;top:916.3px;font-size:11px;color:#a9b4c4;letter-spacing:0.15px;">Builder</div>
<div class="t" style="right:464.8px;top:907.9px;font-size:11px;color:#5e6e82;letter-spacing:0.3px;">$123</div>
<div class="t" style="right:369.0px;top:907.9px;font-size:11px;color:#5e6e82;letter-spacing:0.3px;">4%</div>
<div class="b" style="left:754.8px;top:911.2px;width:48.2px;height:3.6px;background:#edf2f9;border-radius:2px;"></div>
<div class="b" style="left:754.8px;top:911.2px;width:3.6px;height:3.6px;background:#2c7be5;border-radius:2px;"></div>
<svg class="b" style="left:232.5px;top:693.0px" width="47" height="31" viewBox="0 0 47 31"><rect width="47" height="31" fill="#fff" stroke="#eef1f6"/><rect x="4" y="12" width="10" height="1.2" fill="#9aa8e8"/><rect x="4" y="15" width="8" height="1" fill="#c9d0ea"/><circle cx="33" cy="15" r="8" fill="#6b6a70"/><circle cx="31" cy="13" r="3" fill="#cfcfd4"/><circle cx="36" cy="18" r="3" fill="#3b3b42"/></svg>
<svg class="b" style="left:232.5px;top:744.2px" width="47" height="31" viewBox="0 0 47 31"><rect width="47" height="31" fill="#fff" stroke="#eef1f6"/><rect x="3.5" y="14" width="7" height="2" fill="#8a6de0"/><rect x="23" y="1" width="11.5" height="14.5" fill="#24407e"/><rect x="34.5" y="1" width="11.5" height="14.5" fill="#b8182e"/><rect x="23" y="15.5" width="11.5" height="14.5" fill="#1e6b3c"/><rect x="34.5" y="15.5" width="11.5" height="14.5" fill="#d77e33"/></svg>
<svg class="b" style="left:232.5px;top:795.4px" width="47" height="31" viewBox="0 0 47 31"><rect width="47" height="31" fill="#f1f6fd"/><rect x="9" y="1" width="37" height="11" fill="#1c7ae0"/><rect x="0" y="0" width="9" height="31" fill="#e8eef8"/><rect x="1" y="13.5" width="45" height="1" fill="#8ab4ea"/><rect x="10" y="17" width="6" height="12" fill="#e3eaf3"/><rect x="20" y="17" width="6" height="12" fill="#e3eaf3"/><rect x="30" y="17" width="6" height="12" fill="#e3eaf3"/></svg>
<svg class="b" style="left:232.5px;top:846.6px" width="47" height="31" viewBox="0 0 47 31"><defs><linearGradient id="sl" x1="0" y1="0" x2="1" y2="0"><stop offset="0" stop-color="#2a2f8f"/><stop offset=".6" stop-color="#6a2a90"/><stop offset="1" stop-color="#d0103a"/></linearGradient></defs><rect width="47" height="31" fill="#fff"/><rect y="0" width="47" height="17" fill="url(#sl)"/><rect x="5" y="17" width="10" height="7" fill="#f3f3f5"/><rect x="18" y="17" width="10" height="8" fill="#23232b"/><rect x="31" y="17" width="10" height="7" fill="#f3f3f5"/><rect x="4" y="26" width="12" height="3" fill="#2b2b33"/><rect x="30" y="26" width="12" height="3" fill="#2b2b33"/></svg>
<svg class="b" style="left:232.5px;top:897.8px" width="47" height="31" viewBox="0 0 47 31"><rect width="47" height="31" fill="#1e1f24"/></svg>
<div class="b" style="left:859px;top:648px;width:313px;height:36px;background:#f9fafd;"></div>
<div class="t" style="left:875.7px;top:661.0px;font-size:11.3px;color:#344050;-webkit-text-stroke:0.35px #344050;">Shared Files</div>
<div class="t" style="right:45.3px;top:661.0px;font-size:11.3px;color:#2c7be5;letter-spacing:0.1px;">View All</div>
<div class="t" style="left:917.5px;top:699.4px;font-size:11px;color:#344050;font-weight:700;letter-spacing:0.5px;">apple-smart-watch.png</div>
<div class="t" style="left:917.5px;top:718.0px;font-size:10.5px;color:#5e6e82;-webkit-text-stroke:0.2px #5e6e82;">Antony</div>
<div class="t" style="left:960.0px;top:718.0px;font-size:10.5px;color:#9da9bb;">Just Now</div>
<div class="b" style="left:875px;top:742.4000000000001px;width:281px;height:1px;background:#f3f5f9;"></div>
<div class="t" style="left:917.5px;top:757.6px;font-size:11px;color:#344050;font-weight:700;letter-spacing:0.5px;">iphone.jpg</div>
<div class="t" style="left:917.5px;top:776.2px;font-size:10.5px;color:#5e6e82;-webkit-text-stroke:0.2px #5e6e82;">Antony</div>
<div class="t" style="left:960.5px;top:776.2px;font-size:10.5px;color:#9da9bb;">Yesterday at 1:30 PM</div>
<div class="b" style="left:875px;top:800.6px;width:281px;height:1px;background:#f3f5f9;"></div>
<div class="t" style="left:917.5px;top:815.8px;font-size:11px;color:#344050;font-weight:700;letter-spacing:0.5px;">Falcon v1.8.2</div>
<div class="t" style="left:917.5px;top:834.4px;font-size:10.5px;color:#5e6e82;-webkit-text-stroke:0.2px #5e6e82;">Jane</div>
<div class="t" style="left:945.8px;top:834.4px;font-size:10.5px;color:#9da9bb;">27 Sep at 10:30 AM</div>
<div class="b" style="left:875px;top:858.8000000000001px;width:281px;height:1px;background:#f3f5f9;"></div>
<div class="t" style="left:917.5px;top:874.0px;font-size:11px;color:#344050;font-weight:700;letter-spacing:0.5px;">iMac.jpg</div>
<div class="t" style="left:917.5px;top:892.6px;font-size:10.5px;color:#5e6e82;-webkit-text-stroke:0.2px #5e6e82;">Rowen</div>
<div class="t" style="left:958.3px;top:892.6px;font-size:10.5px;color:#9da9bb;">23 Sep at 6:10 PM</div>
<svg class="b" style="left:876.3px;top:700.8px" width="28" height="28" viewBox="0 0 28 28"><defs><clipPath id="fc0"><rect width="28" height="28" rx="3"/></clipPath></defs><g clip-path="url(#fc0)"><rect width="28" height="28" fill="#eceee9"/><path d="M17 0 C22 6 25 14 24 28 L28 28 L28 0Z" fill="#7d9a6a"/><path d="M20 2 C24 8 26 16 26 26" stroke="#3f5a35" stroke-width="2" fill="none"/><rect x="1" y="5" width="14" height="18" rx="4" fill="#2a2d33"/><rect x="3" y="8" width="10" height="11" rx="2" fill="#454b55"/><path d="M0 26 L28 23 L28 24.5 L0 28Z" fill="#a9c98a"/></g></svg>
<svg class="b" style="left:876.3px;top:759.0px" width="28" height="28" viewBox="0 0 28 28"><defs><clipPath id="fc1"><rect width="28" height="28" rx="3"/></clipPath></defs><g clip-path="url(#fc1)"><rect width="28" height="28" fill="#b48c67"/><rect width="28" height="10" fill="#9f8f88"/><path d="M8 2 L22 0 L28 24 L14 28Z" fill="#2db3cf"/><path d="M10 4 L20 2 L26 22 L16 25Z" fill="#46cfe0"/></g></svg>
<svg class="b" style="left:879.5px;top:815.8px" width="21" height="29" viewBox="0 0 21 29"><path d="M1 1 L13 1 L20 8 L20 28 L1 28Z" fill="none" stroke="#2c7be5" stroke-width="1.4"/><path d="M13 1 L13 8 L20 8" fill="none" stroke="#2c7be5" stroke-width="1.2"/><line x1="7" y1="1" x2="7" y2="16" stroke="#2c7be5" stroke-width="1.4"/><circle cx="7" cy="19" r="2.3" fill="none" stroke="#2c7be5" stroke-width="1.3"/></svg>
<svg class="b" style="left:876.3px;top:875.4px" width="28" height="28" viewBox="0 0 28 28"><defs><clipPath id="fc3"><rect width="28" height="28" rx="3"/></clipPath></defs><g clip-path="url(#fc3)"><rect width="28" height="28" fill="#d9d4cf"/><rect x="10" y="3" width="16" height="12" fill="#2e3338"/><rect x="12" y="5" width="12" height="8" fill="#5b7b9a"/><rect x="0" y="18" width="28" height="10" fill="#c4b8aa"/></g></svg>
</body></html>
